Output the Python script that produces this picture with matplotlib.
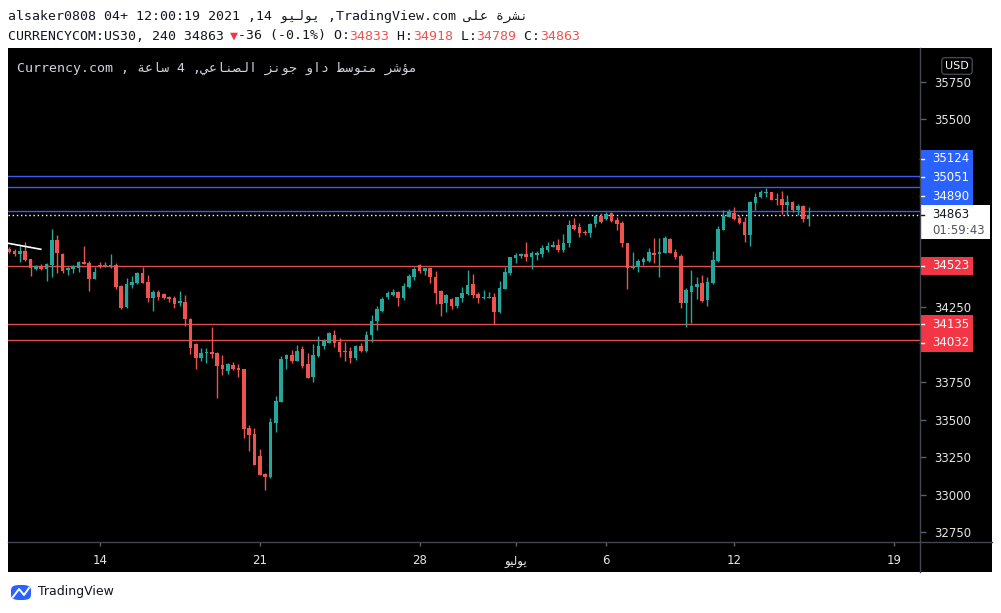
import numpy as np
import matplotlib
matplotlib.use("Agg")
import matplotlib.pyplot as plt
import matplotlib.transforms as mtransforms
from matplotlib.patches import Rectangle, FancyBboxPatch
from matplotlib.lines import Line2D

# US30 4h candles, oldest first
opens = [
    34638, 34625, 34605, 34623, 34570, 34503, 34523, 34503, 34530, 34696,
    34605, 34498, 34503, 34512, 34550, 34543, 34437, 34532, 34523, 34525,
    34530, 34390, 34248, 34397, 34408, 34478, 34417, 34312, 34350, 34337,
    34319, 34312, 34275, 34283, 34168, 34002, 33912, 33942, 33948, 33942,
    33864, 33826, 33864, 33844, 33837, 33444, 33404, 33258, 33138, 33120,
    33480, 33620, 33906, 33930, 33890, 33968, 33868, 33786, 33924, 33990,
    34012, 34064, 34019, 33959, 33959, 33908, 33990, 33957, 34064, 34157,
    34223, 34315, 34332, 34350, 34308, 34381, 34452, 34528, 34492, 34508,
    34448, 34357, 34275, 34301, 34257, 34312, 34337, 34403, 34337, 34312,
    34312, 34317, 34215, 34372, 34478, 34574, 34590, 34603, 34585, 34594,
    34603, 34629, 34652, 34663, 34629, 34674, 34796, 34785, 34749, 34745,
    34803, 34856, 34834, 34874, 34829, 34807, 34674, 34508, 34518, 34552,
    34558, 34607, 34601, 34612, 34703, 34616, 34590, 34279, 34352, 34385,
    34408, 34297, 34408, 34556, 34763, 34851, 34878, 34845, 34818, 34729,
    34944, 34980, 35009, 35016, 34969, 34969, 34929, 34951, 34896, 34922,
    34833]
highs = [
    34649, 34634, 34656, 34683, 34570, 34530, 34536, 34540, 34769, 34729,
    34612, 34518, 34530, 34556, 34656, 34556, 34518, 34552, 34552, 34603,
    34541, 34394, 34441, 34458, 34485, 34518, 34463, 34364, 34364, 34345,
    34323, 34323, 34357, 34330, 34175, 34012, 33975, 33977, 34119, 33950,
    33930, 33875, 33886, 33868, 33837, 33464, 33442, 33305, 33147, 33511,
    33657, 33924, 33937, 33964, 33997, 33990, 33942, 34004, 34057, 34035,
    34086, 34097, 34042, 34019, 33986, 33997, 34012, 34092, 34197, 34257,
    34318, 34359, 34368, 34359, 34408, 34470, 34518, 34534, 34512, 34512,
    34490, 34364, 34335, 34308, 34319, 34381, 34496, 34470, 34352, 34364,
    34348, 34341, 34425, 34518, 34585, 34607, 34612, 34683, 34623, 34625,
    34663, 34683, 34688, 34701, 34734, 34829, 34841, 34807, 34763, 34811,
    34865, 34874, 34881, 34881, 34847, 34825, 34678, 34614, 34570, 34585,
    34641, 34707, 34707, 34723, 34711, 34638, 34603, 34379, 34496, 34452,
    34463, 34448, 34625, 34789, 34896, 34900, 34914, 34863, 34851, 34956,
    35011, 35029, 35044, 35016, 35011, 35024, 34996, 34958, 34936, 34929,
    34918]
lows = [
    34610, 34590, 34552, 34558, 34458, 34496, 34496, 34425, 34448, 34474,
    34478, 34461, 34478, 34485, 34534, 34358, 34437, 34508, 34518, 34508,
    34370, 34239, 34245, 34379, 34403, 34408, 34283, 34225, 34297, 34301,
    34285, 34241, 34257, 34124, 33935, 33835, 33890, 33879, 33912, 33644,
    33799, 33804, 33833, 33786, 33380, 33293, 33198, 33131, 33032, 33114,
    33420, 33620, 33839, 33875, 33890, 33842, 33775, 33751, 33915, 33972,
    34008, 33986, 33915, 33890, 33879, 33900, 33952, 33952, 34019, 34097,
    34219, 34301, 34323, 34257, 34297, 34374, 34430, 34478, 34463, 34408,
    34270, 34192, 34219, 34235, 34241, 34285, 34330, 34308, 34275, 34303,
    34312, 34137, 34208, 34368, 34463, 34545, 34578, 34558, 34505, 34563,
    34581, 34618, 34652, 34618, 34618, 34651, 34763, 34714, 34729, 34718,
    34785, 34811, 34829, 34818, 34763, 34647, 34368, 34503, 34485, 34530,
    34552, 34541, 34448, 34608, 34608, 34570, 34241, 34119, 34145, 34301,
    34285, 34259, 34401, 34552, 34763, 34847, 34829, 34801, 34685, 34658,
    34896, 34974, 34984, 34962, 34929, 34869, 34863, 34885, 34863, 34818,
    34789]
closes = [
    34618, 34601, 34623, 34563, 34508, 34521, 34503, 34536, 34696, 34607,
    34492, 34512, 34521, 34552, 34534, 34437, 34485, 34521, 34532, 34530,
    34381, 34245, 34403, 34419, 34474, 34412, 34312, 34352, 34315, 34312,
    34305, 34272, 34288, 34170, 33979, 33912, 33946, 33950, 33937, 33859,
    33839, 33868, 33835, 33833, 33440, 33398, 33198, 33131, 33120, 33482,
    33626, 33906, 33930, 33890, 33957, 33857, 33779, 33930, 33990, 34022,
    34075, 34012, 33952, 33952, 33908, 33990, 33957, 34064, 34157, 34237,
    34303, 34341, 34350, 34310, 34390, 34456, 34505, 34492, 34508, 34448,
    34345, 34270, 34328, 34257, 34315, 34341, 34394, 34332, 34312, 34317,
    34317, 34219, 34377, 34483, 34581, 34596, 34605, 34585, 34607, 34612,
    34641, 34656, 34665, 34629, 34678, 34796, 34767, 34745, 34743, 34803,
    34856, 34816, 34869, 34825, 34803, 34674, 34508, 34518, 34556, 34568,
    34614, 34598, 34614, 34707, 34612, 34585, 34279, 34363, 34390, 34401,
    34292, 34414, 34563, 34769, 34858, 34884, 34834, 34807, 34729, 34951,
    34984, 35014, 35016, 34962, 34962, 34929, 34951, 34896, 34922, 34834,
    34863]

blue_levels = [35124, 35051, 34890]
red_levels = [34523, 34135, 34032]
last_price = 34863
countdown = "01:59:43"

# little drawn trend line at the far left
trend_x = [-0.24, 5.9]
trend_y = [34674, 34634]

price_ticks = [35750, 35500, 34250, 33750, 33500, 33250, 33000, 32750]
date_ticks = [17, 47, 77, 95, 112, 136, 166]   # bar index of each date label
date_labels = ["14", "21", "28", "يوليو", "6", "12", "19"]

# Arabic letters -> presentation forms (isolated, final, initial, medial)
AR_FORMS = {
    "ا": (0xFE8D, 0xFE8E), "ؤ": (0xFE85, 0xFE86), "ة": (0xFE93, 0xFE94),
    "ت": (0xFE95, 0xFE96, 0xFE97, 0xFE98), "ج": (0xFE9D, 0xFE9E, 0xFE9F, 0xFEA0),
    "د": (0xFEA9, 0xFEAA), "ر": (0xFEAD, 0xFEAE), "ز": (0xFEAF, 0xFEB0),
    "س": (0xFEB1, 0xFEB2, 0xFEB3, 0xFEB4), "ش": (0xFEB5, 0xFEB6, 0xFEB7, 0xFEB8),
    "ص": (0xFEB9, 0xFEBA, 0xFEBB, 0xFEBC), "ط": (0xFEC1, 0xFEC2, 0xFEC3, 0xFEC4),
    "ع": (0xFEC9, 0xFECA, 0xFECB, 0xFECC), "ل": (0xFEDD, 0xFEDE, 0xFEDF, 0xFEE0),
    "م": (0xFEE1, 0xFEE2, 0xFEE3, 0xFEE4), "ن": (0xFEE5, 0xFEE6, 0xFEE7, 0xFEE8),
    "و": (0xFEED, 0xFEEE), "ى": (0xFEEF, 0xFEF0),
    "ي": (0xFEF1, 0xFEF2, 0xFEF3, 0xFEF4),
}


def ar(word):
    # shape one Arabic word and return it in visual (left-to-right) order
    out = []
    for i, ch in enumerate(word):
        forms = AR_FORMS[ch]
        joins_prev = i > 0 and len(AR_FORMS[word[i - 1]]) == 4
        joins_next = len(forms) == 4 and i + 1 < len(word)
        out.append(chr(forms[(1 if joins_prev else 0) + (2 if joins_next else 0)]))
    return "".join(reversed(out))


date_labels = [ar(s) if s[0] in AR_FORMS else s for s in date_labels]

W, H = 1001, 613
MONO = ["DejaVu Sans Mono", "DejaVu Sans"]
UP, DOWN = "#26a69a", "#ef5350"
DARK = "#131722"


def fx(px):
    return px / W


def fy(py):
    return 1 - py / H


fig = plt.figure(figsize=(W / 100, H / 100), dpi=100, facecolor="white")

# black chart pane (behind the axes)
fig.patches.append(Rectangle((fx(8), fy(572)), fx(992) - fx(8), fy(48) - fy(572),
                             transform=fig.transFigure, facecolor="black",
                             edgecolor="none", zorder=-5))

ax = fig.add_axes([fx(8), fy(542), fx(920) - fx(8), fy(48) - fy(542)])
ax.set_zorder(1)
ax.set_facecolor("black")
ymin, ymax = 32685, 35974
ax.set_ylim(ymin, ymax)
ax.set_xlim(-0.24, 170.9)
ppx = (ymax - ymin) / 494  # price units per pixel

o = np.array(opens)
h = np.array(highs)
l = np.array(lows)
c = np.array(closes)
x = np.arange(len(o))
cols = np.where(c >= o, UP, DOWN)

ax.vlines(x, l, h, colors=cols, linewidth=1, zorder=3)
body = np.maximum(np.abs(c - o), ppx)
ax.bar(x, body, bottom=np.minimum(o, c), width=0.68, color=cols,
       linewidth=0, zorder=4)

for lv in blue_levels:
    ax.axhline(lv, color="#3a5cf0", linewidth=1, zorder=2)
for lv in red_levels:
    ax.axhline(lv, color="#e04f4a", linewidth=1, zorder=2)
ax.axhline(last_price, color="white", linewidth=1, linestyle=(0, (1, 2)), zorder=2)
ax.plot(trend_x, trend_y, color="white", linewidth=1.2, zorder=5, clip_on=False)

for s in ax.spines.values():
    s.set_visible(False)
ax.yaxis.tick_right()
ax.set_yticks(price_ticks)
ax.set_yticklabels([str(v) for v in price_ticks])
ax.tick_params(axis="y", colors="#5d606b", labelcolor="#e6e6e6", length=4,
               width=1, pad=6, labelsize=8.5)
ax.set_xticks(date_ticks)
ax.set_xticklabels(date_labels)
ax.tick_params(axis="x", colors="#5d606b", labelcolor="#e6e6e6", length=3,
               width=1, pad=6, labelsize=8.5)

# pane borders
fig.lines.append(Line2D([fx(920), fx(920)], [fy(48), fy(572)],
                        transform=fig.transFigure, color="#434651", linewidth=1))
fig.lines.append(Line2D([fx(8), fx(992)], [fy(542), fy(542)],
                        transform=fig.transFigure, color="#434651", linewidth=1))

# price labels on the axis, stacked so they don't overlap
trans = mtransforms.blended_transform_factory(ax.transAxes, ax.transData)
axw = 912


def level_label(center, text, color):
    ax.add_patch(Rectangle((1.0, center - 9.3 * ppx), 53 / axw, 18.6 * ppx,
                           transform=trans, facecolor=color, edgecolor="none",
                           clip_on=False, zorder=6))
    ax.plot([1.0, 1 + 4 / axw], [center, center], transform=trans, color="white",
            linewidth=1, clip_on=False, zorder=7)
    ax.text(1 + 12 / axw, center, text, transform=trans, color="white",
            fontsize=8.5, va="center", ha="left", clip_on=False, zorder=7)


gap = 18.6 * ppx
prev = last_price + 9.5 * ppx - gap / 2
for lv in sorted(blue_levels):
    pos = max(lv, prev + gap)
    level_label(pos, str(lv), "#2962ff")
    prev = pos
prev = last_price - 24.5 * ppx + gap / 2
for lv in sorted(red_levels, reverse=True):
    pos = min(lv, prev - gap)
    level_label(pos, str(lv), "#f23645")
    prev = pos

# current price box
ax.add_patch(Rectangle((1.0, last_price - 24.5 * ppx), 70 / axw, 34 * ppx,
                       transform=trans, facecolor="white", edgecolor="none",
                       clip_on=False, zorder=6))
ax.plot([1.0, 1 + 4 / axw], [last_price, last_price], transform=trans,
        color=DARK, linewidth=1, clip_on=False, zorder=7)
ax.text(1 + 12 / axw, last_price, str(last_price), transform=trans, color=DARK,
        fontsize=8.5, va="center", ha="left", clip_on=False, zorder=7)
ax.text(1 + 12 / axw, last_price - 15.5 * ppx, countdown, transform=trans,
        color="#50535e", fontsize=8.5, va="center", ha="left", clip_on=False, zorder=7)

# USD badge
fig.text(fx(957), fy(66), "USD", color="white", fontsize=8, ha="center", va="center",
         bbox=dict(boxstyle="round,pad=0.3,rounding_size=0.3", facecolor="black",
                   edgecolor="#434651", linewidth=1))

# pane title
pane_title = (f"Currency.com , {ar('ساعة')} 4 ,{ar('الصناعي')} {ar('جونز')} "
              f"{ar('داو')} {ar('متوسط')} {ar('مؤشر')}")
fig.text(fx(17), fy(68), pane_title, color="#d1d4dc", fontsize=9.5, family=MONO,
         va="center", ha="left", zorder=5)

# header lines
line1 = (f"alsaker0808 04+ 12:00:19 2021 ,14 {ar('يوليو')} ,TradingView.com "
         f"{ar('على')} {ar('نشرة')}")
fig.text(fx(8), fy(16), line1, color=DARK, fontsize=9.5, family=MONO,
         va="center", ha="left")

adv = 0.602 * 9.5 * 100 / 72  # mono advance, px per char
parts = [("CURRENCYCOM:US30, 240 34863 ", DARK), ("▼", "#f23645"),
         ("-36 (-0.1%) O:", DARK), (str(opens[-1]), DOWN),
         (" H:", DARK), (str(highs[-1]), DOWN),
         (" L:", DARK), (str(lows[-1]), DOWN),
         (" C:", DARK), (str(closes[-1]), DOWN)]
xpos = 8
for txt, col in parts:
    fig.text(fx(xpos), fy(36), txt, color=col, fontsize=9.5, family=MONO,
             va="center", ha="left")
    xpos += len(txt) * adv

# footer logo
fig.patches.append(FancyBboxPatch((fx(11), fy(600)), fx(20), fy(585) - fy(600),
                                  boxstyle="round,pad=0,rounding_size=0.008",
                                  transform=fig.transFigure, facecolor="#2962ff",
                                  edgecolor="none"))
fig.lines.append(Line2D([fx(13), fx(19), fx(24), fx(29)],
                        [fy(597), fy(589), fy(595), fy(588)],
                        transform=fig.transFigure, color="white", linewidth=1.4))
fig.text(fx(38), fy(592), "TradingView", color=DARK, fontsize=9, va="center", ha="left")

fig.savefig("out.png", dpi=100, facecolor="white")
